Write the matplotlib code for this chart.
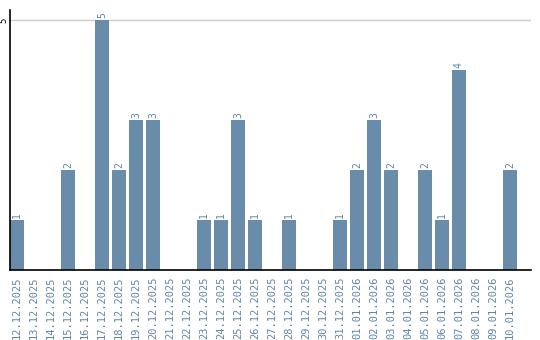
import matplotlib
matplotlib.use("Agg")
import matplotlib.pyplot as plt

dates = ["12.12.2025", "13.12.2025", "14.12.2025", "15.12.2025", "16.12.2025",
         "17.12.2025", "18.12.2025", "19.12.2025", "20.12.2025", "21.12.2025",
         "22.12.2025", "23.12.2025", "24.12.2025", "25.12.2025", "26.12.2025",
         "27.12.2025", "28.12.2025", "29.12.2025", "30.12.2025", "31.12.2025",
         "01.01.2026", "02.01.2026", "03.01.2026", "04.01.2026", "05.01.2026",
         "06.01.2026", "07.01.2026", "08.01.2026", "09.01.2026", "10.01.2026"]
values = [1, 0, 0, 2, 0, 5, 2, 3, 3, 0,
          0, 1, 1, 3, 1, 0, 1, 0, 0, 1,
          2, 3, 2, 0, 2, 1, 4, 0, 0, 2]

bar_color = "#6a8cab"
text_color = "#5f84a8"

fig = plt.figure(figsize=(5.4, 3.4), dpi=100)
ax = fig.add_axes([10/540, 70/340, 521/540, 260/340])

x = list(range(len(dates)))
w = 0.82
ax.bar([i + w/2 for i in x], values, width=w, color=bar_color, zorder=2)
for i, v in enumerate(values):
    if v > 0:
        ax.text(i + w/2, v + 0.05, str(v), rotation=90, ha="center", va="bottom",
                fontsize=7, color=text_color, family="DejaVu Sans Mono")

ax.set_xlim(0, 521/17)
ax.set_ylim(0, 5.2)
ax.set_yticks([5])
ax.set_yticklabels(["5"], rotation=90, va="center", ha="right", fontsize=6.5,
                   family="DejaVu Sans Mono")
ax.axhline(5, color="#cccccc", lw=1, zorder=1)
ax.set_xticks([i + w/2 for i in x])
ax.set_xticklabels(dates, rotation=90, fontsize=7.5, color=text_color,
                   family="DejaVu Sans Mono", va="top")
ax.tick_params(axis="x", length=0, pad=5)
ax.tick_params(axis="y", length=0, pad=1.5)
for s in ["top", "right"]:
    ax.spines[s].set_visible(False)
ax.spines["left"].set_color("black")
ax.spines["bottom"].set_color("black")
ax.spines["left"].set_linewidth(1.2)
ax.spines["bottom"].set_linewidth(1.2)

fig.savefig("out.png", dpi=100)
